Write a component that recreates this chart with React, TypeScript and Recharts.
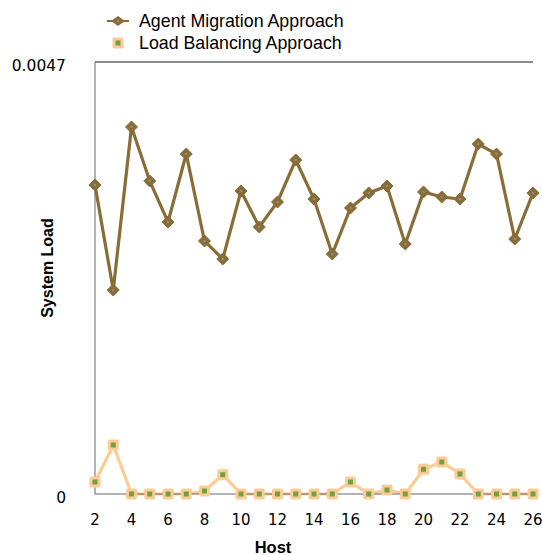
import React from 'react';
import { LineChart, Line, XAxis, YAxis, Legend, ReferenceLine } from 'recharts';

const hosts = [2, 3, 4, 5, 6, 7, 8, 9, 10, 11, 12, 13, 14, 15, 16, 17, 18, 19, 20, 21, 22, 23, 24, 25, 26];
const agentMigration = [
  0.003362, 0.002219, 0.003993, 0.003405, 0.002959, 0.003699, 0.002753, 0.002557, 0.003297,
  0.002905, 0.003177, 0.003634, 0.003209, 0.002611, 0.003112, 0.003275, 0.003351, 0.00272,
  0.003286, 0.003231, 0.003209, 0.003808, 0.003699, 0.002774, 0.003275,
];
const loadBalancing = [
  0.000131, 0.000533, 0, 0, 0, 0, 0.000033, 0.00021, 0, 0, 0, 0, 0, 0, 0.000131, 0,
  0.000044, 0, 0.000269, 0.000348, 0.000218, 0, 0, 0, 0,
];
const xTicks = [2, 4, 6, 8, 10, 12, 14, 16, 18, 20, 22, 24, 26];
const yTicks = [0, 0.0047];

const data = hosts.map((h, i) => ({ host: h, agent: agentMigration[i], load: loadBalancing[i] }));

const BROWN = '#8a6c36';
const GRAY_DOT = '#8c8c8c';
const ORANGE = '#fdcc94';
const GREEN = '#74a044';
const AXIS = '#666666';
const TICK_FONT = '"DejaVu Sans", sans-serif';
const LABEL_FONT = '"Liberation Sans", Arial, sans-serif';

const DiamondDot = (props: any) => {
  const { cx, cy, index } = props;
  if (cx == null || cy == null) return <g key={`d-${index}`} />;
  const r = 6;
  return (
    <g key={`d-${index}`}>
      <path d={`M${cx},${cy - r}L${cx + r},${cy}L${cx},${cy + r}L${cx - r},${cy}Z`} fill={BROWN} stroke={BROWN} strokeWidth={1} />
      <circle cx={cx} cy={cy} r={1.3} fill={GRAY_DOT} />
    </g>
  );
};

const SquareDot = (props: any) => {
  const { cx, cy, index } = props;
  if (cx == null || cy == null) return <g key={`s-${index}`} />;
  return (
    <g key={`s-${index}`}>
      <rect x={cx - 5.5} y={cy - 5.5} width={11} height={11} rx={2} fill={ORANGE} />
      <rect x={cx - 2.5} y={cy - 2.5} width={5} height={5} fill={GREEN} />
    </g>
  );
};

const renderLegend = (props: any) => {
  const { payload } = props;
  return (
    <div style={{ fontFamily: LABEL_FONT, fontSize: 17.8, color: '#000', lineHeight: '22px' }}>
      {(payload || []).map((entry: any, i: number) => (
        <div key={i} style={{ display: 'flex', alignItems: 'center', height: 22 }}>
          <svg width={26} height={16} style={{ marginRight: 8 }}>
            {entry.dataKey === 'agent' ? (
              <g>
                <line x1={2} y1={8} x2={24} y2={8} stroke={BROWN} strokeWidth={2} />
                <path d="M13,3L20,8L13,13L6,8Z" fill={BROWN} />
                <circle cx={13} cy={8} r={1.3} fill={GRAY_DOT} />
              </g>
            ) : (
              <g>
                <rect x={7.5} y={2.5} width={11} height={11} rx={2} fill={ORANGE} />
                <rect x={10.5} y={5.5} width={5} height={5} fill={GREEN} />
              </g>
            )}
          </svg>
          <span>{entry.value}</span>
        </div>
      ))}
    </div>
  );
};

const renderYLabel = (props: any) => {
  const vb = props.viewBox || { x: 0, y: 0, width: 0, height: 0 };
  const x = vb.x + vb.width / 2 - 4;
  const y = vb.y + vb.height / 2 - 10;
  return (
    <text
      x={x}
      y={y}
      transform={`rotate(-90 ${x} ${y})`}
      textAnchor="middle"
      dominantBaseline="central"
      fontFamily={LABEL_FONT}
      fontWeight="bold"
      fontSize={16}
      fill="#000"
    >
      System Load
    </text>
  );
};

const renderXLabel = (props: any) => {
  const vb = props.viewBox || { x: 0, y: 0, width: 0, height: 0 };
  const x = vb.x + vb.width / 2 - 41;
  return (
    <text x={x} y={553} textAnchor="middle" fontFamily={LABEL_FONT} fontWeight="bold" fontSize={16.5} fill="#000">
      Host
    </text>
  );
};

export default function App() {
  return (
    <div style={{ position: 'absolute', left: 0, top: 0, background: '#fff' }}>
      <LineChart width={542} height={555} data={data} margin={{ top: 62, right: 9, bottom: 21, left: 8 }}>
        <XAxis
          dataKey="host"
          type="number"
          domain={[2, 26]}
          ticks={xTicks}
          interval={0}
          tickLine={false}
          tickSize={0}
          tickMargin={20}
          height={40}
          axisLine={{ stroke: AXIS, strokeWidth: 1 }}
          tick={{ fill: '#000', fontSize: 15, fontFamily: TICK_FONT }}
          label={renderXLabel}
        />
        <YAxis
          type="number"
          domain={[0, 0.0047]}
          ticks={yTicks}
          interval={0}
          width={87}
          tickLine={false}
          tickSize={0}
          tickMargin={29}
          axisLine={{ stroke: AXIS, strokeWidth: 1 }}
          tick={{ fill: '#000', fontSize: 15.5, fontFamily: TICK_FONT, dy: 3 }}
          tickFormatter={(v: number) => String(v)}
          label={renderYLabel}
        />
        <ReferenceLine y={0.0047} stroke={AXIS} strokeWidth={1.5} ifOverflow="visible" />
        <Legend
          layout="vertical"
          align="center"
          verticalAlign="middle"
          content={renderLegend}
          wrapperStyle={{ top: 10, left: 105, width: 320 }}
        />
        <Line
          name="Agent Migration Approach"
          dataKey="agent"
          stroke={BROWN}
          strokeWidth={3.2}
          dot={DiamondDot}
          activeDot={false}
          isAnimationActive={false}
        />
        <Line
          name="Load Balancing Approach"
          dataKey="load"
          stroke={ORANGE}
          strokeWidth={3.2}
          dot={SquareDot}
          activeDot={false}
          isAnimationActive={false}
        />
      </LineChart>
    </div>
  );
}
